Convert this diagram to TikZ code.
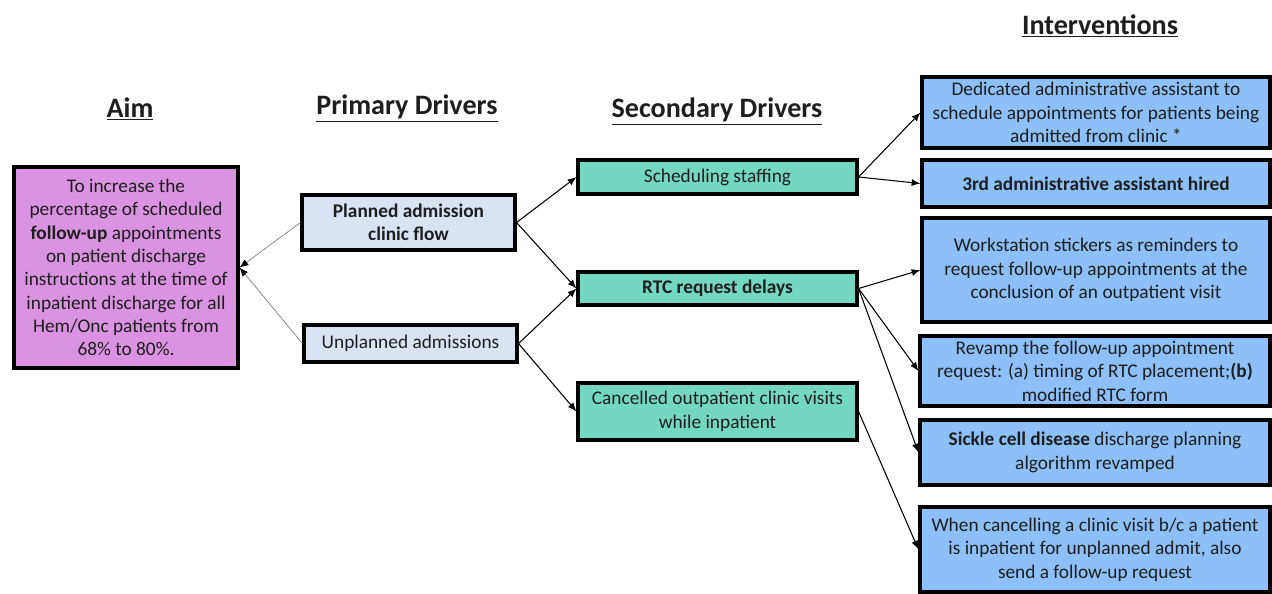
\documentclass[tikz,border=0pt]{standalone}
\usepackage{fontspec}
\setmainfont{Carlito}
\usetikzlibrary{arrows.meta}

\definecolor{aimfill}{HTML}{D993E0}
\definecolor{primfill}{HTML}{DAE3F1}
\definecolor{secfill}{HTML}{74D8C0}
\definecolor{intfill}{HTML}{8DBFF8}
\definecolor{ink}{HTML}{1E1E1E}

\tikzset{
  box/.style={draw=black, line width=1.8pt, align=center, text=ink, font=\fontsize{11}{13.3}\selectfont, inner sep=2pt},
  heading/.style={text=ink, font=\fontsize{16}{19}\selectfont\bfseries},
  link/.style={-{Latex[length=5pt,width=4pt,color=black]}, line width=0.6pt},
}

\begin{document}
\begin{tikzpicture}[x=0.02cm, y=-0.02cm]
    \useasboundingbox (0,0) rectangle (1272,593);

    % column headings
    \node[heading] (hAim) at (130,109) {\underline{Aim}};
    \node[heading] (hPrim) at (407,109) {\underline{Primary Drivers}};
    \node[heading] (hSec) at (717,112) {\underline{Secondary Drivers}};
    \node[heading] (hInt) at (1100,26) {\underline{Interventions}};

    % aim
    \node[box, fill=aimfill, minimum width=4.48cm, minimum height=4.02cm] (aim) at (126,267.5)
      {To increase the\\ percentage of scheduled\\ \textbf{follow-up} appointments\\ on patient discharge\\ instructions at the time of\\ inpatient discharge for all\\ Hem/Onc patients from\\ 68\% to 80\%.};

    % primary drivers
    \node[box, fill=primfill, minimum width=4.26cm, minimum height=1.1cm] (pdA) at (408.5,222.5)
      {\textbf{Planned admission}\\ \textbf{clinic flow}};
    \node[box, fill=primfill, minimum width=4.26cm, minimum height=0.74cm] (pdB) at (410.5,343.5)
      {Unplanned admissions};

    % secondary drivers
    \node[box, fill=secfill, minimum width=5.58cm, minimum height=0.68cm] (sdA) at (717.5,177)
      {Scheduling staffing};
    \node[box, fill=secfill, minimum width=5.58cm, minimum height=0.66cm] (sdB) at (717.5,288.5)
      {\textbf{RTC request delays}};
    \node[box, fill=secfill, minimum width=5.58cm, minimum height=1.14cm] (sdC) at (717.5,411.5)
      {Cancelled outpatient clinic visits\\ while inpatient};

    % interventions
    \node[box, fill=intfill, minimum width=6.96cm, minimum height=1.42cm] (ivA) at (1096,112.5)
      {Dedicated administrative assistant to\\ schedule appointments for patients being\\ admitted from clinic *};
    \node[box, fill=intfill, minimum width=6.96cm, minimum height=0.94cm] (ivB) at (1096,183.5)
      {\textbf{3rd administrative assistant hired}};
    \node[box, fill=intfill, minimum width=6.96cm, minimum height=2.08cm] (ivC) at (1096,270)
      {Workstation stickers as reminders to\\ request follow-up appointments at the\\ conclusion of an outpatient visit};
    \node[box, fill=intfill, minimum width=7cm, minimum height=1.4cm] (ivD) at (1095,371)
      {Revamp the follow-up appointment\\ request: (a) timing of RTC placement;\textbf{(b)}\\ modified RTC form};
    \node[box, fill=intfill, minimum width=7cm, minimum height=1.3cm] (ivE) at (1095,452.5)
      {\textbf{Sickle cell disease} discharge planning\\ algorithm revamped};
    \node[box, fill=intfill, minimum width=7cm, minimum height=1.7cm] (ivF) at (1095,549.5)
      {When cancelling a clinic visit b/c a patient\\ is inpatient for unplanned admit, also\\ send a follow-up request};

    % connectors
    \draw[link, line width=0.4pt, draw=gray] (pdA.west) -- (aim.east);
    \draw[link, line width=0.4pt, draw=gray] (pdB.west) -- (aim.east);
    \draw[link] (pdA.east) -- (sdA.west);
    \draw[link] (pdA.east) -- (sdB.west);
    \draw[link] (pdB.east) -- (sdB.west);
    \draw[link] (pdB.east) -- (sdC.west);
    \draw[link] (sdA.east) -- (ivA.west);
    \draw[link] (sdA.east) -- (ivB.west);
    \draw[link] (sdB.east) -- (ivC.west);
    \draw[link] (sdB.east) -- (ivD.west);
    \draw[link] (sdB.east) -- (ivE.west);
    \draw[link] (sdC.east) -- (ivF.west);
\end{tikzpicture}
\end{document}
